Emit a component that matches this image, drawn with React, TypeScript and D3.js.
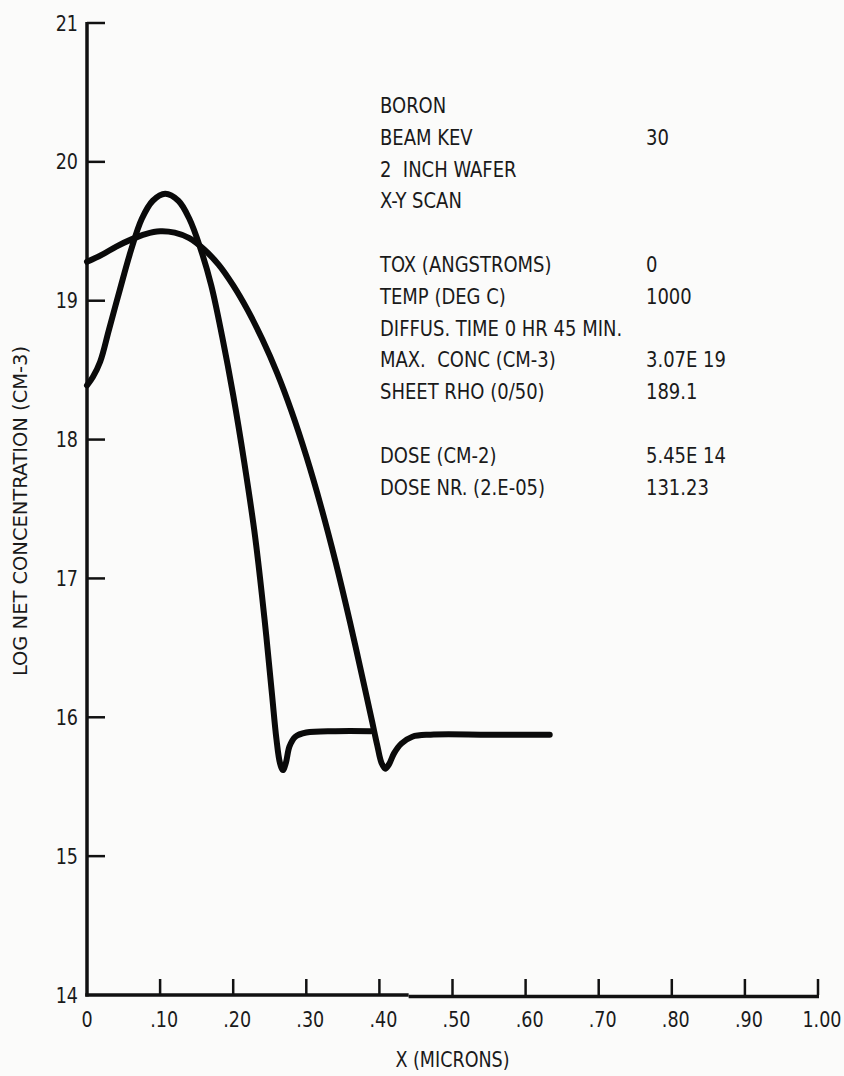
import React from 'react';
import * as d3 from 'd3';

// ---- data ----
const yTicks = [14, 15, 16, 17, 18, 19, 20, 21];
const xTicks = [0, 0.1, 0.2, 0.3, 0.4, 0.5, 0.6, 0.7, 0.8, 0.9, 1.0];
const xTickLabels = ['0', '.10', '.20', '.30', '.40', '.50', '.60', '.70', '.80', '.90', '1.00'];

// as-implanted (sharp) profile
const implantX = [0, 0.008, 0.018, 0.03, 0.045, 0.06, 0.075, 0.09, 0.107, 0.125, 0.14, 0.155, 0.17, 0.185, 0.2, 0.215, 0.23, 0.243, 0.253, 0.259, 0.264, 0.268, 0.272, 0.277, 0.285, 0.3, 0.34, 0.388];
const implantY = [18.39, 18.45, 18.56, 18.79, 19.08, 19.36, 19.59, 19.72, 19.77, 19.72, 19.59, 19.38, 19.11, 18.74, 18.32, 17.84, 17.30, 16.70, 16.17, 15.85, 15.67, 15.62, 15.67, 15.79, 15.86, 15.89, 15.90, 15.90];

// diffused profile
const diffX = [0, 0.02, 0.04, 0.06, 0.08, 0.1, 0.12, 0.14, 0.16, 0.18, 0.2, 0.22, 0.24, 0.26, 0.28, 0.3, 0.32, 0.34, 0.36, 0.38, 0.39, 0.397, 0.403, 0.408, 0.413, 0.42, 0.43, 0.445, 0.47, 0.55, 0.633];
const diffY = [19.28, 19.33, 19.39, 19.44, 19.48, 19.50, 19.49, 19.45, 19.37, 19.26, 19.11, 18.93, 18.72, 18.48, 18.20, 17.88, 17.52, 17.12, 16.68, 16.21, 15.97, 15.80, 15.67, 15.63, 15.66, 15.74, 15.81, 15.86, 15.875, 15.875, 15.875];

const infoLabels = ['BORON', 'BEAM KEV', '2  INCH WAFER', 'X-Y SCAN', '', 'TOX (ANGSTROMS)', 'TEMP (DEG C)', 'DIFFUS. TIME 0 HR 45 MIN.', 'MAX.  CONC (CM-3)', 'SHEET RHO (0/50)', '', 'DOSE (CM-2)', 'DOSE NR. (2.E-05)'];
const infoValues = ['', '30', '', '', '', '0', '1000', '', '3.07E 19', '189.1', '', '5.45E 14', '131.23'];

const FONT = "'Liberation Sans Narrow', 'DejaVu Sans Condensed', 'Roboto Condensed', sans-serif";
const INK = '#1a1a1a';

function T({ x, y, size, anchor, children }: { x: number; y: number; size: number; anchor?: string; children: React.ReactNode }) {
  return (
    <text transform={`translate(${x},${y}) scale(0.93,1)`} textAnchor={anchor || 'start'} fontSize={size} fill={INK}
      style={{ whiteSpace: 'pre' }}>{children}</text>
  );
}

export default function App() {
  const W = 844, H = 1076;
  const x = d3.scaleLinear().domain([0, 1]).range([87, 818]);
  const y = d3.scaleLinear().domain([14, 21]).range([995, 23]);

  const line = d3.line<[number, number]>()
    .x(d => x(d[0]))
    .y(d => y(d[1]))
    .curve(d3.curveCatmullRom.alpha(0.5));

  const implant = implantX.map((v, i) => [v, implantY[i]] as [number, number]);
  const diffused = diffX.map((v, i) => [v, diffY[i]] as [number, number]);

  const splitX = x(0.44);

  return (
    <svg width={W} height={H} style={{ position: 'absolute', left: 0, top: 0 }}
      fontFamily={FONT} fontStretch="condensed">
      <rect x={0} y={0} width={W} height={H} fill="#fbfbfa" />
      {/* y axis */}
      <line x1={x(0)} x2={x(0)} y1={y(21) - 1} y2={y(14) + 1.5} stroke="#111" strokeWidth={3.5} />
      {yTicks.map(t => (
        <g key={t}>
          {t !== 14 && <line x1={x(0)} x2={x(0) + 18} y1={y(t)} y2={y(t)} stroke="#111" strokeWidth={2.5} />}
          <T x={78} y={y(t) + 7.5} size={21} anchor="end">{t}</T>
        </g>
      ))}
      {/* x axis */}
      <line x1={x(0) - 1.7} x2={splitX} y1={y(14)} y2={y(14)} stroke="#111" strokeWidth={3.5} />
      <line x1={splitX} x2={x(1) + 1} y1={y(14) + 1.5} y2={y(14) + 1.5} stroke="#111" strokeWidth={3.5} />
      {xTicks.map((t, i) => (
        <g key={i}>
          {i > 0 && <line x1={x(t)} x2={x(t)} y1={y(14)} y2={y(14) - 16} stroke="#111" strokeWidth={2.5} />}
          <T x={x(t) + (i > 0 ? 4 : 0)} y={1027} size={21} anchor="middle">{xTickLabels[i]}</T>
        </g>
      ))}
      <T x={x(0.5)} y={1067} size={21} anchor="middle">X (MICRONS)</T>
      <text transform={`translate(27,511) rotate(-90)`} textAnchor="middle" fontSize={20} fill={INK}
        textLength={330} lengthAdjust="spacingAndGlyphs">LOG NET CONCENTRATION (CM-3)</text>

      {/* curves */}
      <path d={line(diffused) || ''} fill="none" stroke="#0a0a0a" strokeWidth={6} strokeLinejoin="round" strokeLinecap="round" />
      <path d={line(implant) || ''} fill="none" stroke="#0a0a0a" strokeWidth={6} strokeLinejoin="round" strokeLinecap="round" />

      {/* info block */}
      {infoLabels.map((s, i) => (
        <g key={i}>
          {s && <T x={380} y={113 + i * 31.8} size={21.5}>{s}</T>}
          {infoValues[i] && <T x={646} y={113 + i * 31.8} size={21.5}>{infoValues[i]}</T>}
        </g>
      ))}
    </svg>
  );
}
